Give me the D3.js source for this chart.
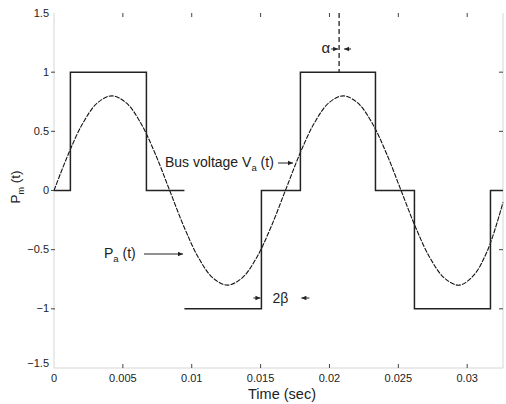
<!DOCTYPE html>
<html><head><meta charset="utf-8">
<script src="https://cdn.jsdelivr.net/npm/d3@7"></script>
<style>
body{margin:0;background:#fff;}
text{font-family:"Liberation Sans",Arial,Helvetica,sans-serif;fill:#222;}
</style></head>
<body><svg id="c" width="506" height="404"></svg>
<script>
// ---- data ----
const xTicks = [0, 0.005, 0.01, 0.015, 0.02, 0.025, 0.03];
const xTickLabels = ["0", "0.005", "0.01", "0.015", "0.02", "0.025", "0.03"];
const yTicks = [-1.5, -1, -0.5, 0, 0.5, 1, 1.5];
const yTickLabels = ["\u22121.5", "\u22121", "\u22120.5", "0", "0.5", "1", "1.5"];
// mechanical power square wave P_m(t), two separate pieces (time, value)
const pmPiece1 = [[0,0],[0.00119,0],[0.00119,1],[0.00671,1],[0.00671,0],[0.00947,0]];
const pmPiece2 = [[0.00947,-1],[0.01506,-1],[0.01506,0],[0.01789,0],[0.01789,1],[0.02334,1],
                  [0.02334,0],[0.02617,0],[0.02617,-1],[0.03169,-1],[0.03169,0],[0.0326,0]];
// bus voltage curve (time, value)
const busTime = [0,0.00105,0.0021,0.00315,0.0042,0.00525,0.0063,0.00735,0.0084,0.00945,0.0105,
  0.01155,0.0126,0.01365,0.0147,0.01575,0.0168,0.01785,0.0189,0.01995,0.021,0.02205,0.0231,
  0.02415,0.0252,0.02625,0.0273,0.02835,0.0294,0.03045,0.0315,0.0326];
const busValue = [0,0.31,0.57,0.74,0.8,0.74,0.57,0.31,0,-0.31,-0.57,
  -0.74,-0.8,-0.74,-0.57,-0.31,0,0.31,0.57,0.74,0.8,0.74,0.57,
  0.31,0,-0.31,-0.57,-0.74,-0.8,-0.72,-0.5,-0.1];
const alphaTime = 0.02070;   // dashed marker line
const betaTime = [0.01506, 0.01789];

// ---- chart ----
const svg = d3.select("#c");
const x = d3.scaleLinear().domain([0, 0.0326]).range([54, 503]);
const y = d3.scaleLinear().domain([-1.5, 1.5]).range([368, 13]);

// frame (faint)
const g = svg.append("g");
g.append("line").attr("x1",54).attr("x2",54).attr("y1",13).attr("y2",368).attr("stroke","#d6d6d6");
g.append("line").attr("x1",54).attr("x2",503).attr("y1",368).attr("y2",368).attr("stroke","#d6d6d6");
g.append("line").attr("x1",503).attr("x2",503).attr("y1",13).attr("y2",368).attr("stroke","#d6d6d6");

// x ticks (bottom + top, inward)
xTicks.forEach((t,i)=>{
  const px = x(t);
  if (i>0){
    g.append("line").attr("x1",px).attr("x2",px).attr("y1",368).attr("y2",364).attr("stroke","#444");
    g.append("line").attr("x1",px).attr("x2",px).attr("y1",13).attr("y2",17).attr("stroke","#444");
  }
  g.append("text").attr("x",px).attr("y",382).attr("text-anchor","middle")
    .attr("font-size","11px").text(xTickLabels[i]);
});
// y ticks (left + right)
yTicks.forEach((v,i)=>{
  const py = y(v);
  if (v>-1.5 && v<1.5){
    g.append("line").attr("x1",51).attr("x2",55).attr("y1",py).attr("y2",py).attr("stroke","#444");
    g.append("line").attr("x1",503).attr("x2",499).attr("y1",py).attr("y2",py).attr("stroke","#444");
  }
  g.append("text").attr("x",49).attr("y",py + (v===-1.5? -1 : 3.5)).attr("text-anchor","end")
    .attr("font-size","11px").text(yTickLabels[i]);
});

// axis titles
g.append("text").attr("x",282).attr("y",399).attr("text-anchor","middle").attr("font-size","14.5px").text("Time (sec)");
const yl = g.append("text").attr("transform","translate(20,187) rotate(-90)").attr("text-anchor","middle").attr("font-size","13.5px");
yl.append("tspan").text("P");
yl.append("tspan").attr("dy",4).attr("font-size","9px").text("m");
yl.append("tspan").attr("dy",-4).text(" (t)");

// bus voltage curve
const busPts = busTime.map((t,i)=>[t,busValue[i]]);
const line = d3.line().x(d=>x(d[0])).y(d=>y(d[1]));
svg.append("path").attr("d", line.curve(d3.curveCatmullRom)(busPts))
  .attr("fill","none").attr("stroke","#111").attr("stroke-width",1.1).attr("stroke-dasharray","5,1.2");

// square wave
const sq = d3.line().x(d=>x(d[0])).y(d=>y(d[1]));
[pmPiece1, pmPiece2].forEach(p=>{
  svg.append("path").attr("d", sq(p)).attr("fill","none").attr("stroke","#222").attr("stroke-width",1.5);
});

// dashed alpha marker
svg.append("line").attr("x1",x(alphaTime)).attr("x2",x(alphaTime)).attr("y1",y(1.5)).attr("y2",y(1))
  .attr("stroke","#222").attr("stroke-width",1.3).attr("stroke-dasharray","5,3");

function arrow(x1,y1,x2,y2){
  svg.append("line").attr("x1",x1).attr("y1",y1).attr("x2",x2).attr("y2",y2).attr("stroke","#222").attr("stroke-width",1);
  const ang = Math.atan2(y2-y1,x2-x1), L=5, W=2.3;
  const p = [[x2,y2],[x2-L*Math.cos(ang)+W*Math.sin(ang), y2-L*Math.sin(ang)-W*Math.cos(ang)],
             [x2-L*Math.cos(ang)-W*Math.sin(ang), y2-L*Math.sin(ang)+W*Math.cos(ang)]];
  svg.append("path").attr("d","M"+p.map(q=>q.join(",")).join("L")+"Z").attr("fill","#222");
}
// alpha
const ax = x(alphaTime);
svg.append("text").attr("x",ax-9).attr("y",53).attr("text-anchor","end").attr("font-size","15px").text("\u03b1");
arrow(ax-8, 49, ax-1, 49);
arrow(ax+12, 49, ax+5, 49);
// 2beta
svg.append("text").attr("x",x(betaTime[0])+11).attr("y",303).attr("font-size","14px").text("2\u03b2");
arrow(x(betaTime[0])-8, 298, x(betaTime[0])-1, 298);
arrow(x(betaTime[1])+9, 298, x(betaTime[1])+1, 298);

// Bus voltage label
const bl = svg.append("text").attr("x",165).attr("y",167).attr("font-size","14px");
bl.append("tspan").text("Bus voltage V");
bl.append("tspan").attr("dy",4).attr("font-size","9.5px").text("a");
bl.append("tspan").attr("dy",-4).text(" (t)");
arrow(278, 163, 293, 163);
// P_a label
const pl = svg.append("text").attr("x",104).attr("y",258).attr("font-size","14px");
pl.append("tspan").text("P");
pl.append("tspan").attr("dy",4).attr("font-size","9.5px").text("a");
pl.append("tspan").attr("dy",-4).text(" (t)");
arrow(144, 254, 183, 254);
</script></body></html>
